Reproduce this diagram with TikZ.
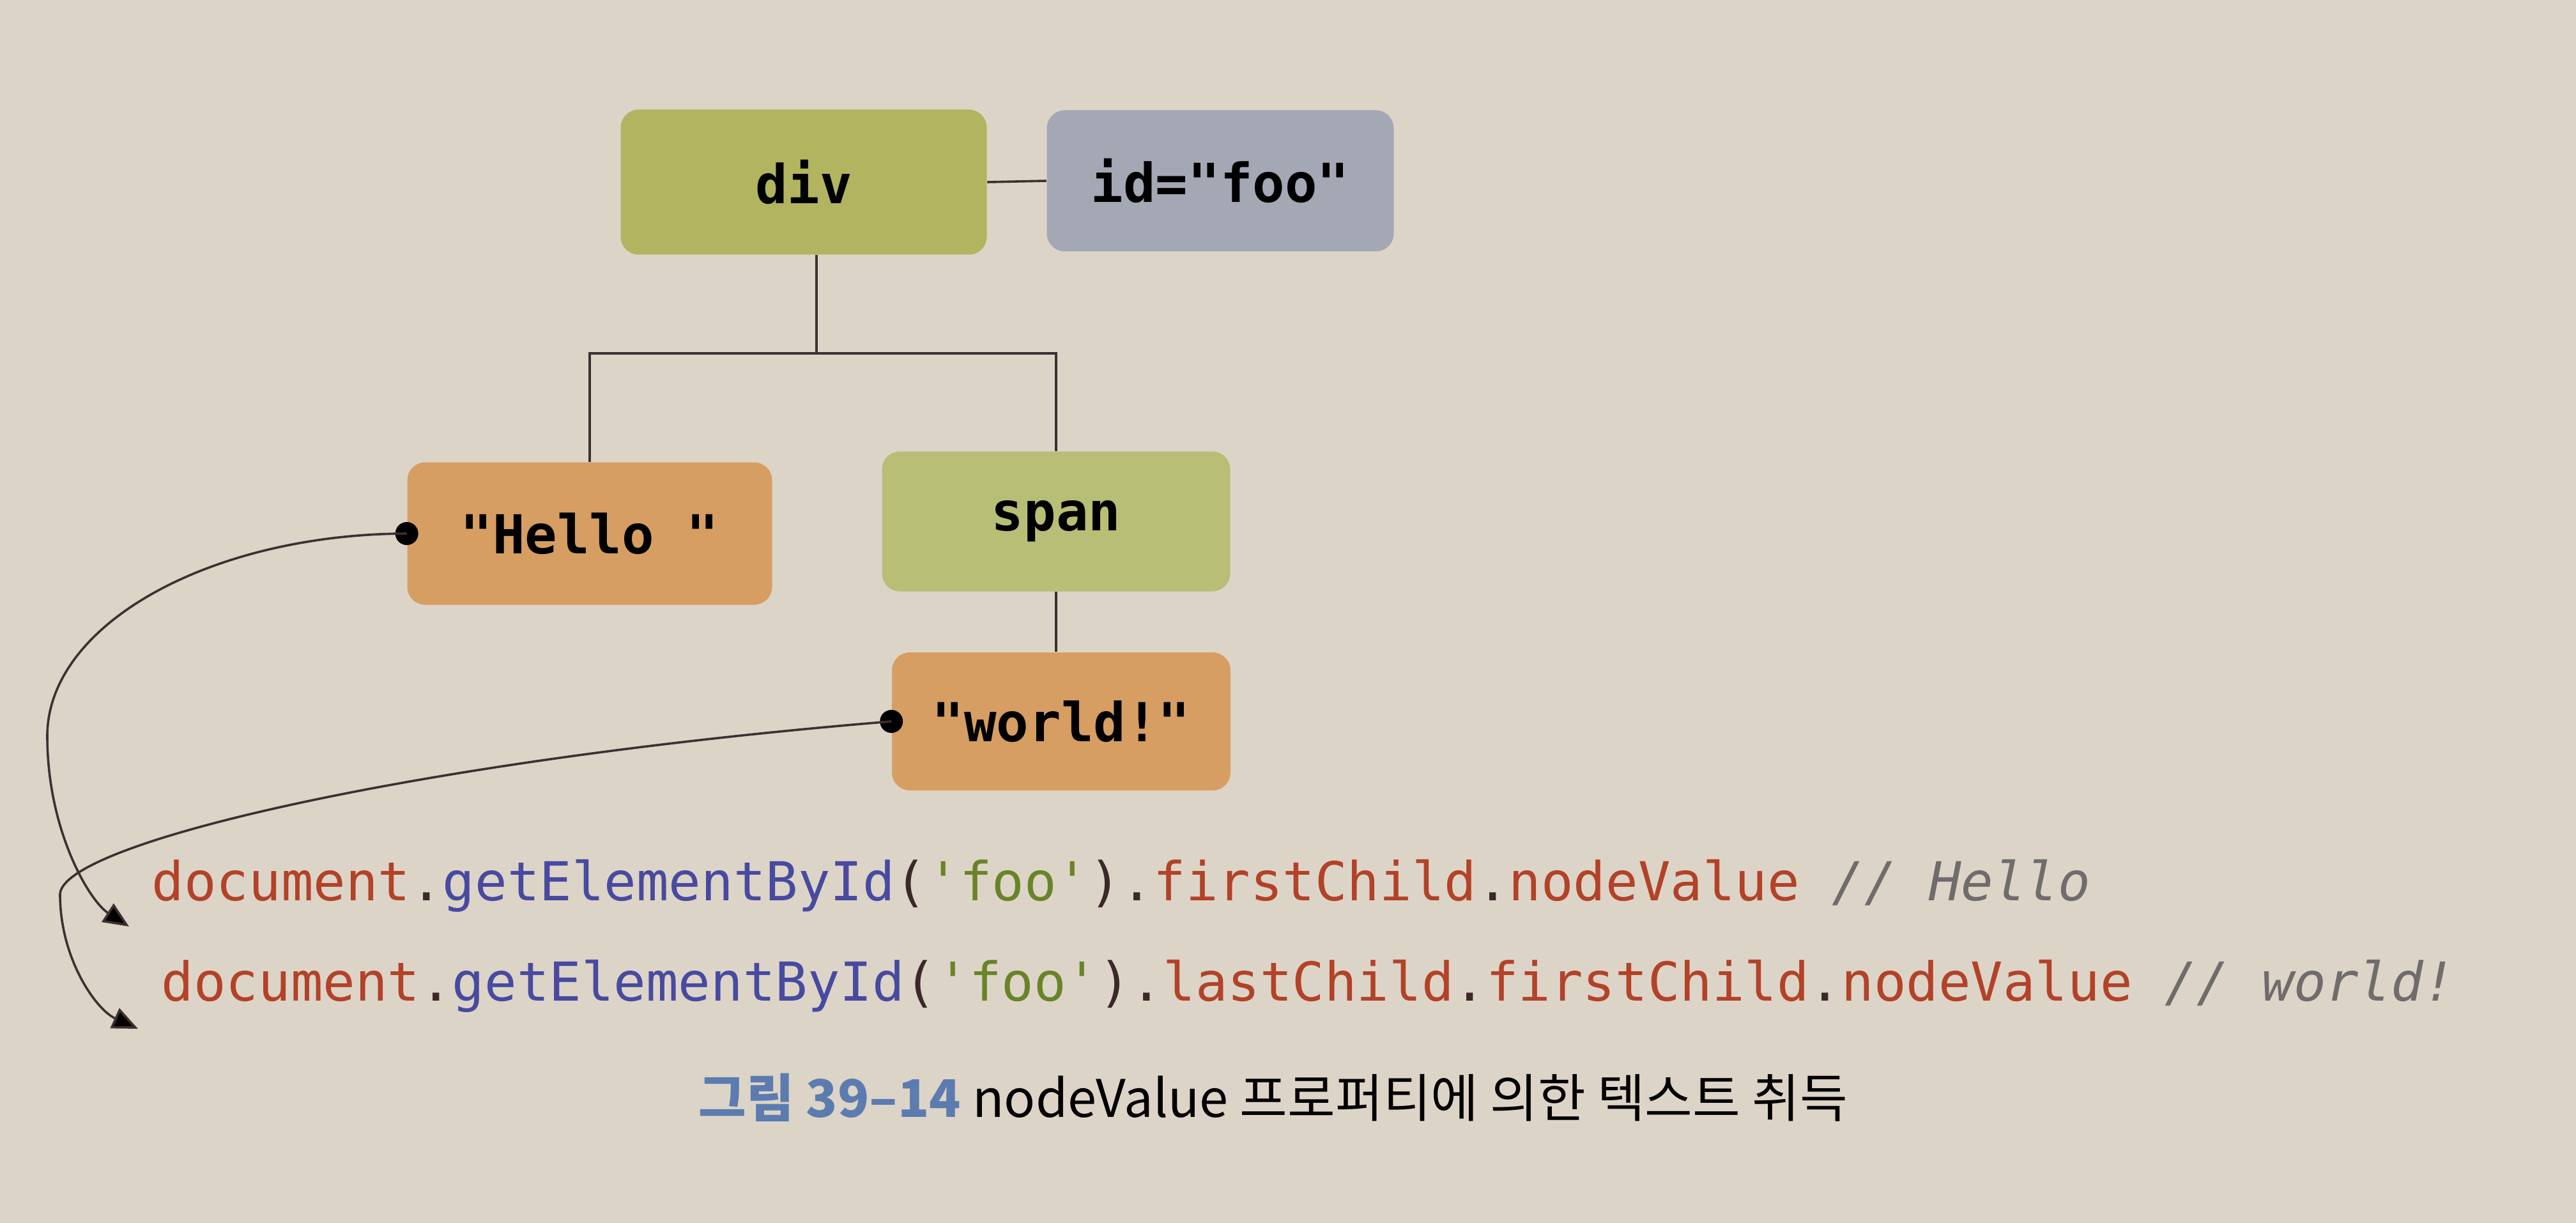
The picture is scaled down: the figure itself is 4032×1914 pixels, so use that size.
\documentclass[tikz,border=0pt]{standalone}
\usepackage{fontspec}
\setmainfont{Noto Sans CJK KR}
\setmonofont{DejaVu Sans Mono}
\usetikzlibrary{arrows.meta}
\definecolor{bg}{RGB}{221,212,200}
\definecolor{divgreen}{RGB}{178,180,96}
\definecolor{spangreen}{RGB}{184,190,118}
\definecolor{idgrey}{RGB}{164,168,181}
\definecolor{textorange}{RGB}{214,158,98}
\definecolor{cred}{RGB}{178,66,40}
\definecolor{cblue}{RGB}{72,74,160}
\definecolor{cgreen}{RGB}{104,132,40}
\definecolor{cpar}{RGB}{60,40,40}
\definecolor{cgrey}{RGB}{112,108,108}
\definecolor{capblue}{RGB}{92,124,176}
\definecolor{linec}{RGB}{60,48,48}
\tikzset{
  tbox/.style={rounded corners=7pt, inner sep=0pt, font=\ttfamily\bfseries\fontsize{21}{24}\selectfont, text=black},
  conn/.style={draw=linec, line width=0.9pt},
  dotn/.style={circle, fill=black, inner sep=0pt, minimum size=9pt},
  codeline/.style={anchor=base west, inner sep=0pt, font=\ttfamily\fontsize{21}{24}\selectfont},
  arr/.style={conn, -{Triangle[length=10pt,width=8.5pt,fill=black]}}
}
\newcommand{\cq}{\textquotesingle}
\begin{document}
\begin{tikzpicture}[x=0.25pt,y=-0.25pt]
\fill[bg] (0,0) rectangle (4032,1914);
\useasboundingbox (0,0) rectangle (4032,1914);

\node[tbox, fill=divgreen, minimum width=143.25pt, minimum height=56.75pt] (div) at (1258,285) {div};
\node[tbox, fill=idgrey, minimum width=135.75pt, minimum height=55.25pt] (id) at (1910,283) {id="foo"};
\node[tbox, fill=textorange, minimum width=142.75pt, minimum height=55.75pt] (hello) at (923,835) {"Hello~"};
\node[tbox, fill=spangreen, minimum width=136.25pt, minimum height=54.75pt] (span) at (1653,816) {span};
\node[tbox, fill=textorange, minimum width=132.5pt, minimum height=54pt] (world) at (1661,1129) {"world!"};

\draw[conn] (div.east) -- (id.west);
\coordinate (j) at (1278,553);
\draw[conn] (div.south -| j) -- (j);
\draw[conn] (hello.north) |- (j) -| (span.north);
\draw[conn] (span.south) -- (span.south |- world.north);

\node[dotn] (hd) at (hello.west) {};
\node[dotn] (wd) at (world.west) {};

\node[codeline] (l1) at (237,1409) {\textcolor{cred}{document}\textcolor{cpar}{.}\textcolor{cblue}{getElementById}\textcolor{cpar}{(}\textcolor{cgreen}{\cq foo\cq}\textcolor{cpar}{)}\textcolor{cpar}{.}\textcolor{cred}{firstChild}\textcolor{cpar}{.}\textcolor{cred}{nodeValue}\textcolor{cgrey}{\itshape{} // Hello}};
\node[codeline] (l2) at (252,1566) {\textcolor{cred}{document}\textcolor{cpar}{.}\textcolor{cblue}{getElementById}\textcolor{cpar}{(}\textcolor{cgreen}{\cq foo\cq}\textcolor{cpar}{)}\textcolor{cpar}{.}\textcolor{cred}{lastChild}\textcolor{cpar}{.}\textcolor{cred}{firstChild}\textcolor{cpar}{.}\textcolor{cred}{nodeValue}\textcolor{cgrey}{\itshape{} // world!}};

\coordinate (a1) at (202,1450);
\coordinate (a2) at (216,1610);
\draw[arr] (hd.center) .. controls (329,836) and (74,977) .. (74,1152)
  .. controls (74,1300) and (140,1410) .. (a1);
\draw[arr] (wd.center) .. controls (650,1190) and (94,1320) .. (94,1400)
  .. controls (94,1500) and (150,1580) .. (a2);

\node[anchor=base west, inner sep=0pt, font=\fontsize{20.3}{23}\selectfont] (cap) at (1093,1748) {\textcolor{capblue}{\bfseries 그림 39–14}\space nodeValue 프로퍼티에 의한 텍스트 취득};
\end{tikzpicture}
\end{document}
